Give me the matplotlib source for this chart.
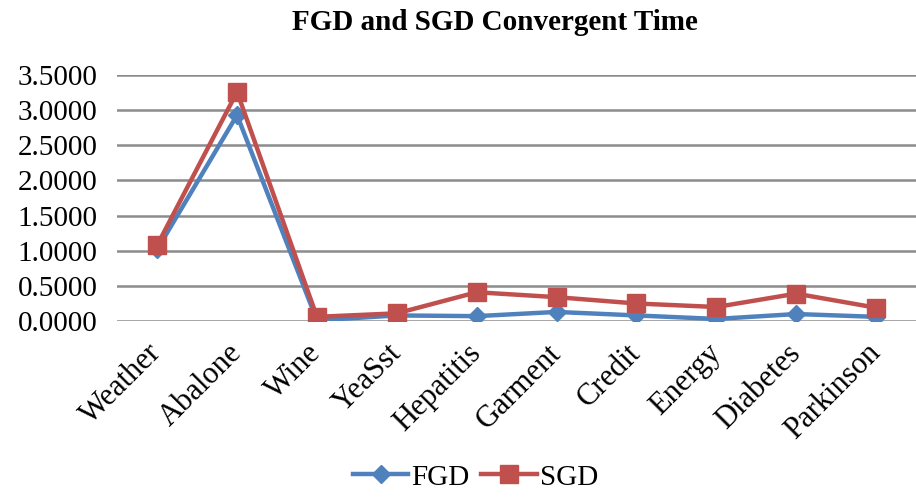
import matplotlib
matplotlib.use('Agg')
import matplotlib.pyplot as plt

# dataset names on the x axis
datasets = ['Weather', 'Abalone', 'Wine', 'YeaSst', 'Hepatitis', 'Garment',
            'Credit', 'Energy', 'Diabetes', 'Parkinson']

# convergent time
fgd_time = [1.02, 2.93, 0.01, 0.08, 0.07, 0.13, 0.08, 0.03, 0.10, 0.06]
sgd_time = [1.08, 3.26, 0.06, 0.11, 0.41, 0.34, 0.25, 0.20, 0.39, 0.19]

y_ticks = [0.0, 0.5, 1.0, 1.5, 2.0, 2.5, 3.0, 3.5]

plt.rcParams['font.family'] = ['Liberation Serif', 'DejaVu Serif']

fig = plt.figure(figsize=(9.16, 4.97), dpi=100)
ax = fig.add_axes([0.128, 0.354, 0.872, 0.495])

x = list(range(len(datasets)))
ax.plot(x, fgd_time, color='#4F81BD', linewidth=3.2, marker='D',
        markersize=9, label='FGD', zorder=3)
ax.plot(x, sgd_time, color='#C0504D', linewidth=3.2, marker='s',
        markersize=13, label='SGD', zorder=4)

ax.set_xlim(-0.5, len(datasets) - 0.5)
ax.set_ylim(0, 3.5)
ax.set_yticks(y_ticks)
ax.set_yticklabels(['%.4f' % v for v in y_ticks], fontsize=21)
ax.set_xticks(x)
ax.set_xticklabels(datasets, fontsize=22, rotation=45, ha='right',
                   va='center', rotation_mode='anchor')
ax.tick_params(axis='both', length=0)
ax.tick_params(axis='x', pad=20)
ax.tick_params(axis='y', pad=14)

ax.grid(axis='y', color='#8C8C8C', linewidth=1.8)
ax.set_axisbelow(True)
for side in ['left', 'right', 'top', 'bottom']:
    ax.spines[side].set_visible(False)

fig.text(0.54, 0.955, 'FGD and SGD Convergent Time', fontsize=21,
         fontweight='bold', ha='center', va='center')

fig.legend(loc='lower center', bbox_to_anchor=(0.519, -0.04), ncol=2,
           frameon=False, fontsize=21, handlelength=1.9, handletextpad=0.1,
           columnspacing=0.4)

fig.savefig('out.png', dpi=100)
